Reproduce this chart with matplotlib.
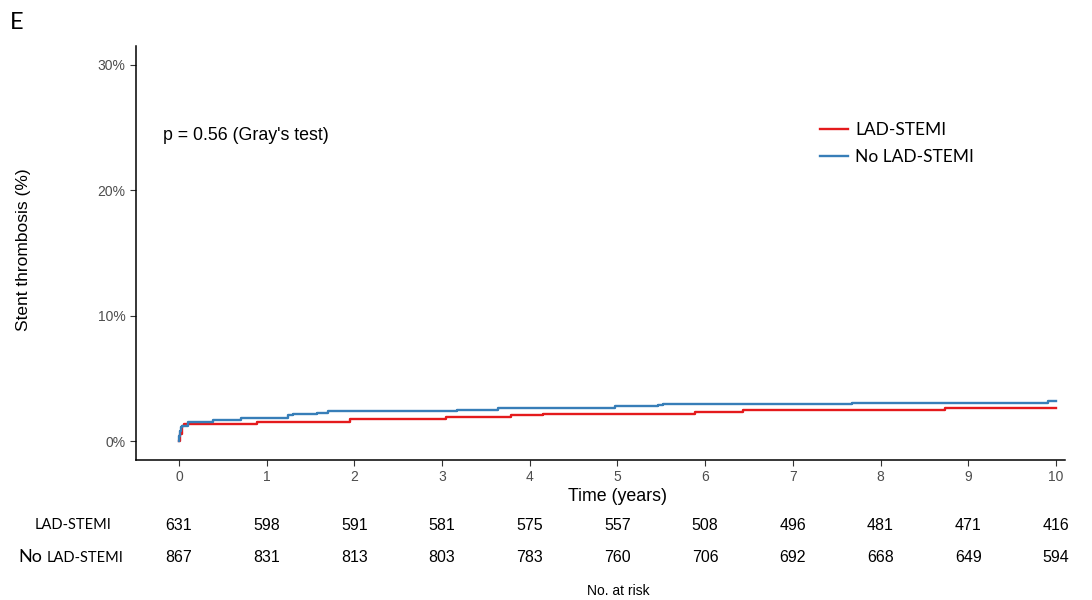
import matplotlib.pyplot as plt

plt.rcParams['font.family'] = ['Liberation Sans', 'DejaVu Sans']

# cumulative incidence curves (time in years, incidence in %)
lad_t = [0, 0.01, 0.03, 0.06, 0.89, 1.95, 3.05, 3.79, 4.15, 5.89, 6.43, 8.73, 10.0]
lad_y = [0, 0.6, 1.2, 1.41, 1.54, 1.75, 1.94, 2.07, 2.2, 2.31, 2.49, 2.68, 2.68]
nolad_t = [0, 0.005, 0.01, 0.02, 0.04, 0.1, 0.39, 0.71, 1.24, 1.3, 1.57, 1.7, 3.17, 3.64,
           4.97, 5.46, 5.52, 7.68, 9.91, 10.0]
nolad_y = [0, 0.4, 0.8, 1.1, 1.25, 1.54, 1.7, 1.86, 2.07, 2.15, 2.26, 2.39, 2.52, 2.64,
           2.78, 2.9, 3.0, 3.08, 3.24, 3.24]

years = list(range(11))
risk_lad = [631, 598, 591, 581, 575, 557, 508, 496, 481, 471, 416]
risk_nolad = [867, 831, 813, 803, 783, 760, 706, 692, 668, 649, 594]
yticks = [0, 10, 20, 30]

red = '#E41A1C'
blue = '#377EB8'

fig = plt.figure(figsize=(10.92, 6), dpi=100)
ax = fig.add_axes([0.1245, 0.2333, 0.8505, 0.69])

ax.step(lad_t, lad_y, where='post', color=red, lw=1.7, label='LAD-STEMI')
ax.step(nolad_t, nolad_y, where='post', color=blue, lw=1.7, label='No LAD-STEMI')

ax.set_xlim(-0.49, 10.1)
ax.set_ylim(-1.5, 31.5)
ax.set_xticks(years)
ax.set_yticks(yticks)
ax.set_yticklabels([f'{v}%' for v in yticks])
ax.tick_params(labelsize=10, labelcolor='#4d4d4d', length=4, color='#333333')
for s in ['top', 'right']:
    ax.spines[s].set_visible(False)
for s in ['left', 'bottom']:
    ax.spines[s].set_linewidth(1.1)

ax.set_xlabel('Time (years)', fontsize=12.8)
ax.xaxis.set_label_coords(0.519, -0.068)
ax.set_ylabel('Stent thrombosis (%)', fontsize=12.5)
ax.yaxis.set_label_coords(-0.113, 0.507)

ax.text(-0.18, 24.4, "p = 0.56 (Gray's test)", fontsize=12.8, va='center')

leg = ax.legend(loc='upper left', bbox_to_anchor=(0.72, 0.855), frameon=False,
                prop={'family': 'Lato', 'size': 12.5}, handlelength=1.6,
                handletextpad=0.4, labelspacing=0.63)

fig.text(0.009, 0.963, 'E', fontsize=17, va='center', family='Lato')

# risk table
for x, a, b in zip(years, risk_lad, risk_nolad):
    xf = ax.transData.transform((x, 0))[0] / fig.bbox.width
    fig.text(xf, 1 - 525 / 600, str(a), ha='center', va='center', fontsize=11.5)
    fig.text(xf, 1 - 558 / 600, str(b), ha='center', va='center', fontsize=11.5)

fig.text(73 / 1092, 1 - 525 / 600, 'LAD-STEMI', ha='center', va='center',
         fontsize=10.5, family='Lato')
fig.text(18 / 1092, 1 - 557 / 600, 'No', ha='left', va='center',
         fontsize=13, family='Lato')
fig.text(47 / 1092, 1 - 558 / 600, 'LAD-STEMI', ha='left', va='center',
         fontsize=10.5, family='Lato')
fig.text(618 / 1092, 1 - 591 / 600, 'No. at risk', ha='center', va='center', fontsize=10)

fig.savefig('out.png', dpi=100)
